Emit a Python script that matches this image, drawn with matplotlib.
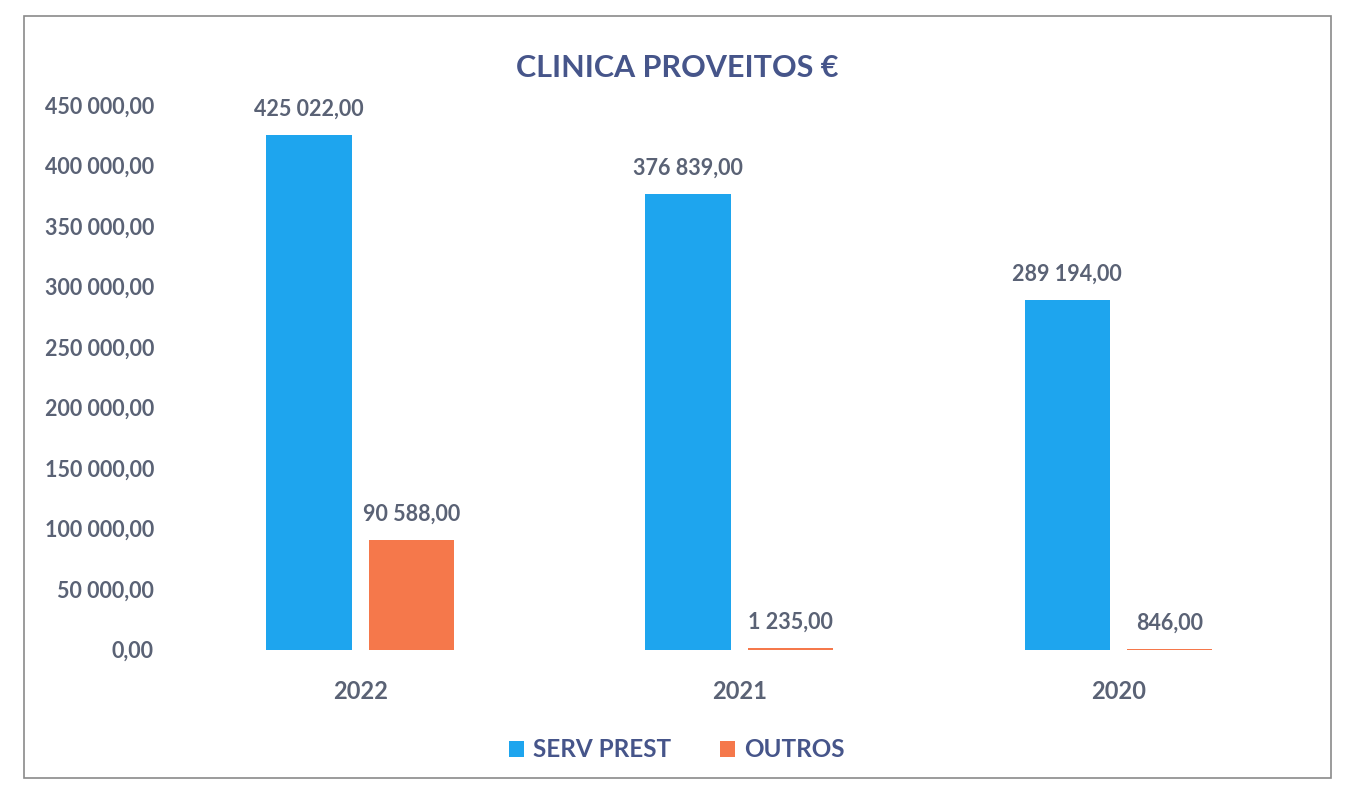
import matplotlib
matplotlib.use("Agg")
import matplotlib.pyplot as plt
import numpy as np
from matplotlib.patches import Rectangle

years = ["2022", "2021", "2020"]
serv_prest = [425022.00, 376839.00, 289194.00]
outros = [90588.00, 1235.00, 846.00]
yticks = [0, 50000, 100000, 150000, 200000, 250000, 300000, 350000, 400000, 450000]

def fmt(v):
    s = f"{v:,.2f}"
    return s.replace(",", " ").replace(".", ",")

plt.rcParams['font.family'] = ['Lato', 'DejaVu Sans']
fig = plt.figure(figsize=(13.54, 8.02), dpi=100)
ax = fig.add_axes([0.126, 0.19, 0.84, 0.679])

x = np.arange(len(years))
w = 0.225
off = 0.135
blue = "#1ea5ee"
orange = "#f5784b"
tick_col = "#5a6275"
title_col = "#46558a"

b1 = ax.bar(x - off, serv_prest, w, color=blue, label="SERV PREST")
b2 = ax.bar(x + off, outros, w, color=orange, label="OUTROS")

for rects, vals in ((b1, serv_prest), (b2, outros)):
    for r, v in zip(rects, vals):
        ax.annotate(fmt(v), (r.get_x() + r.get_width() / 2, v),
                    xytext=(0, 11), textcoords="offset points",
                    ha="center", va="bottom", fontsize=15.5, fontweight="bold",
                    color=tick_col)

ax.set_xlim(-0.5, 2.5)
ax.set_ylim(0, 450000)
ax.set_yticks(yticks)
ax.set_yticklabels([fmt(v) for v in yticks], fontsize=15.5, fontweight="bold", color=tick_col)
ax.set_xticks(x)
ax.set_xticklabels(years, fontsize=17, fontweight="bold", color=tick_col)
ax.tick_params(axis="both", length=0)
ax.tick_params(axis="x", pad=22)
ax.tick_params(axis="y", pad=12)
for s in ax.spines.values():
    s.set_visible(False)

fig.text(0.5, 0.915, "CLINICA PROVEITOS €", ha="center", va="center",
         fontsize=22, fontweight="bold", color=title_col)

leg = fig.legend(handles=[b1, b2], loc="center", bbox_to_anchor=(0.5, 0.065),
                 ncol=2, frameon=False, fontsize=17.5, handlelength=0.6,
                 handleheight=0.6, handletextpad=0.4, columnspacing=2.0)
for t in leg.get_texts():
    t.set_fontweight("bold")
    t.set_color(title_col)

fig.patches.append(Rectangle((0.018, 0.03), 0.965, 0.95, transform=fig.transFigure,
                             fill=False, edgecolor="#8a8a8a", linewidth=1.2))

fig.savefig("out.png", dpi=100)
